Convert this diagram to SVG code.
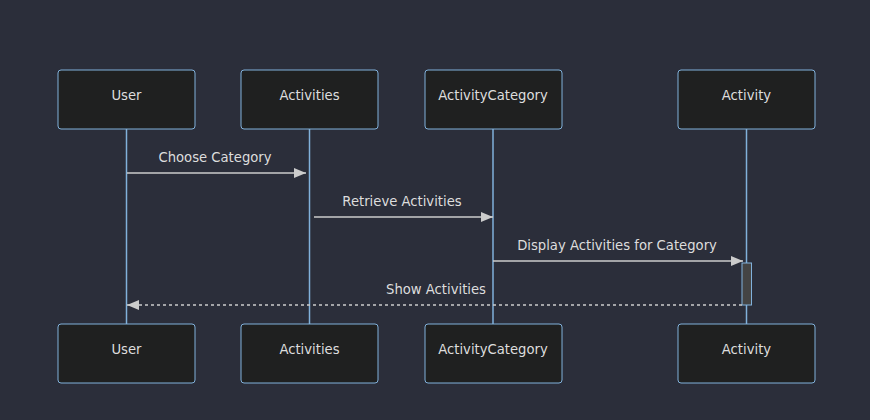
<svg xmlns="http://www.w3.org/2000/svg" width="870" height="420" viewBox="0 0 870 420">
<style>
.bg{fill:#2b2e3a}
.actor{fill:#1f2020;stroke:#81B1DB;stroke-width:1}
.life{stroke:#81B1DB;stroke-width:1.5}
.at{fill:#ddd;font-family:"DejaVu Sans",sans-serif;font-size:13.2px;text-anchor:middle;dominant-baseline:central}
.mt{fill:#ddd;font-family:"DejaVu Sans",sans-serif;font-size:13.2px;text-anchor:middle}
.msg{stroke:#ccc;stroke-width:1.5;fill:none}
.dash{stroke-dasharray:3,3}
.act{fill:#444;stroke:#81B1DB;stroke-width:1}
</style>
<defs>
<marker id="arrow" viewBox="0 0 12 10" refX="12" refY="5" markerWidth="12" markerHeight="10" markerUnits="userSpaceOnUse" orient="auto">
<path d="M0,0 L12,5 L0,10 z" fill="#ccc"/>
</marker>
</defs>
<rect class="bg" x="0" y="0" width="870" height="420"/>
<g id="lifelines">
<line class="life" x1="126.5" y1="129" x2="126.5" y2="324"/>
<line class="life" x1="309.5" y1="129" x2="309.5" y2="324"/>
<line class="life" x1="493" y1="129" x2="493" y2="324"/>
<line class="life" x1="746.5" y1="129" x2="746.5" y2="324"/>
</g>
<g id="actor-User">
<rect class="actor" x="58" y="70" width="137" height="59" rx="3"/>
<text class="at" x="126.5" y="95">User</text>
<rect class="actor" x="58" y="324" width="137" height="59" rx="3"/>
<text class="at" x="126.5" y="349">User</text>
</g>
<g id="actor-Activities">
<rect class="actor" x="241" y="70" width="137" height="59" rx="3"/>
<text class="at" x="309.5" y="95">Activities</text>
<rect class="actor" x="241" y="324" width="137" height="59" rx="3"/>
<text class="at" x="309.5" y="349">Activities</text>
</g>
<g id="actor-ActivityCategory">
<rect class="actor" x="425" y="70" width="137" height="59" rx="3"/>
<text class="at" x="493" y="95">ActivityCategory</text>
<rect class="actor" x="425" y="324" width="137" height="59" rx="3"/>
<text class="at" x="493" y="349">ActivityCategory</text>
</g>
<g id="actor-Activity">
<rect class="actor" x="678" y="70" width="137" height="59" rx="3"/>
<text class="at" x="746.5" y="95">Activity</text>
<rect class="actor" x="678" y="324" width="137" height="59" rx="3"/>
<text class="at" x="746.5" y="349">Activity</text>
</g>
<g id="activation">
<rect class="act" x="742" y="263" width="9.5" height="42"/>
</g>
<g id="connectors">
<line class="msg" x1="127" y1="173" x2="306" y2="173" marker-end="url(#arrow)"/>
<text class="mt" x="215" y="162">Choose Category</text>
<line class="msg" x1="314" y1="217" x2="493" y2="217" marker-end="url(#arrow)"/>
<text class="mt" x="402" y="206">Retrieve Activities</text>
<line class="msg" x1="493" y1="261" x2="743" y2="261" marker-end="url(#arrow)"/>
<text class="mt" x="617" y="250">Display Activities for Category</text>
<line class="msg dash" x1="742" y1="305" x2="127" y2="305" marker-end="url(#arrow)"/>
<text class="mt" x="436" y="294">Show Activities</text>
</g>
</svg>
